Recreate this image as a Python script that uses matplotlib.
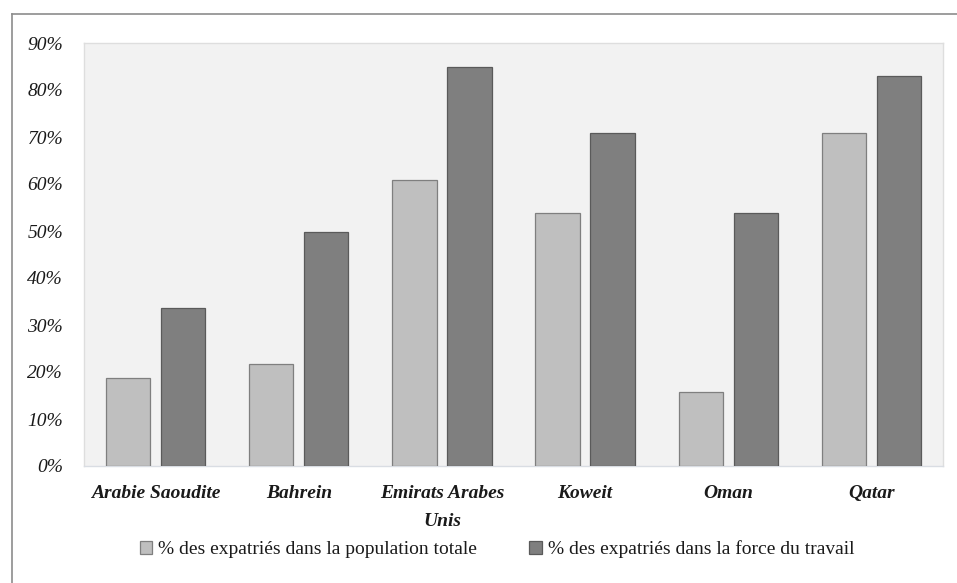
import matplotlib
matplotlib.use("Agg")
import matplotlib.pyplot as plt
import numpy as np
from matplotlib.lines import Line2D

categories = ["Arabie Saoudite", "Bahrein", "Emirats Arabes\nUnis", "Koweit", "Oman", "Qatar"]
pop_totale = [18.8, 21.8, 60.8, 53.8, 15.8, 70.8]
force_travail = [33.7, 49.8, 84.9, 70.8, 53.8, 82.9]
yticks = [0, 10, 20, 30, 40, 50, 60, 70, 80, 90]
ytick_labels = [f"{v}%" for v in yticks]
series_labels = ["% des expatriés dans la population totale",
                 "% des expatriés dans la force du travail"]

plt.rcParams['font.family'] = ['Liberation Serif', 'DejaVu Serif']
plt.rcParams['text.color'] = "#1a1a1a"

W, H = 957, 583
fig = plt.figure(figsize=(W / 100, H / 100), dpi=100)

# outer frame lines (top and left only visible)
fig.add_artist(Line2D([12 / W, 1.0], [1 - 14 / H, 1 - 14 / H], color="#8c8c8c", lw=1.2, transform=fig.transFigure))
fig.add_artist(Line2D([12 / W, 12 / W], [0, 1 - 14 / H], color="#8c8c8c", lw=1.2, transform=fig.transFigure))

ax = fig.add_axes([84 / W, (H - 466) / H, (943 - 84) / W, (466 - 43) / H])
ax.set_facecolor("#f2f2f2")
for s in ax.spines.values():
    s.set_color("#dedede")
    s.set_linewidth(1.0)
ax.spines['bottom'].set_color("#d9dde3")

x = np.arange(len(categories))
w = 0.31
off = 0.192
ax.bar(x - off, pop_totale, w, color="#bfbfbf", edgecolor="#7f7f7f", linewidth=0.9, label=series_labels[0], zorder=3)
ax.bar(x + off, force_travail, w, color="#7f7f7f", edgecolor="#5a5a5a", linewidth=0.9, label=series_labels[1], zorder=3)

ax.set_xlim(-0.5, len(categories) - 0.5)
ax.set_ylim(0, 90)
ax.set_yticks(yticks)
ax.set_yticklabels(ytick_labels, fontsize=14, fontstyle="italic", color="#1a1a1a")
ax.tick_params(axis="y", length=0, pad=15)
ax.set_xticks(x)
ax.set_xticklabels(categories, fontsize=14, fontstyle="italic", fontweight="bold", linespacing=1.85, color="#1a1a1a")
ax.tick_params(axis="x", length=0, pad=14)

fig.legend(loc="center", bbox_to_anchor=(497 / W, 1 - 549 / H), ncol=2, frameon=False,
           fontsize=14, handlelength=0.65, handleheight=0.65, handletextpad=0.3, columnspacing=2.7,
           labelcolor="#1a1a1a")

fig.savefig("out.png", dpi=100)
